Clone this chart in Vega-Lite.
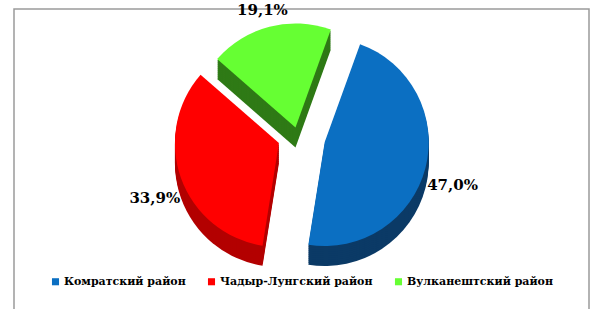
{
  "$schema": "https://vega.github.io/schema/vega-lite/v6.json",
  "width": 575,
  "height": 304,
  "autosize": {"type": "none"},
  "padding": {"left": 14, "top": 9, "right": 3, "bottom": 0},
  "background": "white",
  "view": {"stroke": "#9a9a9a", "strokeWidth": 1.5},
  "data": {"values": [
    {"region": "Комратский район", "share": 47.0, "label": "47,0%"},
    {"region": "Чадыр-Лунгский район", "share": 33.9, "label": "33,9%"},
    {"region": "Вулканештский район", "share": 19.1, "label": "19,1%"}
  ]},
  "encoding": {
    "theta": {"field": "share", "type": "quantitative", "stack": true, "scale": {"range": [5.43, 11.713]}},
    "order": {"field": "region", "type": "nominal", "sort": "ascending"}
  },
  "layer": [
    {"mark": {"type": "arc", "radius": 104, "y": {"expr": "height/2 - 22"}, "fill": {"expr": "datum.region == 'Комратский район' ? '#0b3a66' : datum.region == 'Чадыр-Лунгский район' ? '#b30000' : '#2f7a16'"}, "xOffset": {"expr": "24*sin(5.43 + PI*(datum.share_start + datum.share_end)/100)"}, "yOffset": {"expr": "20 - 12*cos(5.43 + PI*(datum.share_start + datum.share_end)/100)"}},
     "encoding": {"detail": {"field": "region", "type": "nominal"}}},
    {"mark": {"type": "arc", "radius": 104, "y": {"expr": "height/2 - 22"}, "fill": {"expr": "datum.region == 'Комратский район' ? '#0b3a66' : datum.region == 'Чадыр-Лунгский район' ? '#b30000' : '#2f7a16'"}, "xOffset": {"expr": "24*sin(5.43 + PI*(datum.share_start + datum.share_end)/100)"}, "yOffset": {"expr": "18 - 12*cos(5.43 + PI*(datum.share_start + datum.share_end)/100)"}},
     "encoding": {"detail": {"field": "region", "type": "nominal"}}},
    {"mark": {"type": "arc", "radius": 104, "y": {"expr": "height/2 - 22"}, "fill": {"expr": "datum.region == 'Комратский район' ? '#0b3a66' : datum.region == 'Чадыр-Лунгский район' ? '#b30000' : '#2f7a16'"}, "xOffset": {"expr": "24*sin(5.43 + PI*(datum.share_start + datum.share_end)/100)"}, "yOffset": {"expr": "16 - 12*cos(5.43 + PI*(datum.share_start + datum.share_end)/100)"}},
     "encoding": {"detail": {"field": "region", "type": "nominal"}}},
    {"mark": {"type": "arc", "radius": 104, "y": {"expr": "height/2 - 22"}, "fill": {"expr": "datum.region == 'Комратский район' ? '#0b3a66' : datum.region == 'Чадыр-Лунгский район' ? '#b30000' : '#2f7a16'"}, "xOffset": {"expr": "24*sin(5.43 + PI*(datum.share_start + datum.share_end)/100)"}, "yOffset": {"expr": "14 - 12*cos(5.43 + PI*(datum.share_start + datum.share_end)/100)"}},
     "encoding": {"detail": {"field": "region", "type": "nominal"}}},
    {"mark": {"type": "arc", "radius": 104, "y": {"expr": "height/2 - 22"}, "fill": {"expr": "datum.region == 'Комратский район' ? '#0b3a66' : datum.region == 'Чадыр-Лунгский район' ? '#b30000' : '#2f7a16'"}, "xOffset": {"expr": "24*sin(5.43 + PI*(datum.share_start + datum.share_end)/100)"}, "yOffset": {"expr": "12 - 12*cos(5.43 + PI*(datum.share_start + datum.share_end)/100)"}},
     "encoding": {"detail": {"field": "region", "type": "nominal"}}},
    {"mark": {"type": "arc", "radius": 104, "y": {"expr": "height/2 - 22"}, "fill": {"expr": "datum.region == 'Комратский район' ? '#0b3a66' : datum.region == 'Чадыр-Лунгский район' ? '#b30000' : '#2f7a16'"}, "xOffset": {"expr": "24*sin(5.43 + PI*(datum.share_start + datum.share_end)/100)"}, "yOffset": {"expr": "10 - 12*cos(5.43 + PI*(datum.share_start + datum.share_end)/100)"}},
     "encoding": {"detail": {"field": "region", "type": "nominal"}}},
    {"mark": {"type": "arc", "radius": 104, "y": {"expr": "height/2 - 22"}, "fill": {"expr": "datum.region == 'Комратский район' ? '#0b3a66' : datum.region == 'Чадыр-Лунгский район' ? '#b30000' : '#2f7a16'"}, "xOffset": {"expr": "24*sin(5.43 + PI*(datum.share_start + datum.share_end)/100)"}, "yOffset": {"expr": "8 - 12*cos(5.43 + PI*(datum.share_start + datum.share_end)/100)"}},
     "encoding": {"detail": {"field": "region", "type": "nominal"}}},
    {"mark": {"type": "arc", "radius": 104, "y": {"expr": "height/2 - 22"}, "fill": {"expr": "datum.region == 'Комратский район' ? '#0b3a66' : datum.region == 'Чадыр-Лунгский район' ? '#b30000' : '#2f7a16'"}, "xOffset": {"expr": "24*sin(5.43 + PI*(datum.share_start + datum.share_end)/100)"}, "yOffset": {"expr": "6 - 12*cos(5.43 + PI*(datum.share_start + datum.share_end)/100)"}},
     "encoding": {"detail": {"field": "region", "type": "nominal"}}},
    {"mark": {"type": "arc", "radius": 104, "y": {"expr": "height/2 - 22"}, "fill": {"expr": "datum.region == 'Комратский район' ? '#0b3a66' : datum.region == 'Чадыр-Лунгский район' ? '#b30000' : '#2f7a16'"}, "xOffset": {"expr": "24*sin(5.43 + PI*(datum.share_start + datum.share_end)/100)"}, "yOffset": {"expr": "4 - 12*cos(5.43 + PI*(datum.share_start + datum.share_end)/100)"}},
     "encoding": {"detail": {"field": "region", "type": "nominal"}}},
    {"mark": {"type": "arc", "radius": 104, "y": {"expr": "height/2 - 22"}, "fill": {"expr": "datum.region == 'Комратский район' ? '#0b3a66' : datum.region == 'Чадыр-Лунгский район' ? '#b30000' : '#2f7a16'"}, "xOffset": {"expr": "24*sin(5.43 + PI*(datum.share_start + datum.share_end)/100)"}, "yOffset": {"expr": "2 - 12*cos(5.43 + PI*(datum.share_start + datum.share_end)/100)"}},
     "encoding": {"detail": {"field": "region", "type": "nominal"}}},
    {"mark": {"type": "arc", "radius": 104, "y": {"expr": "height/2 - 22"}, "xOffset": {"expr": "24*sin(5.43 + PI*(datum.share_start + datum.share_end)/100)"}, "yOffset": {"expr": "-12*cos(5.43 + PI*(datum.share_start + datum.share_end)/100)"}},
     "encoding": {"color": {"field": "region", "type": "nominal", "title": null,
       "scale": {"domain": ["Комратский район", "Чадыр-Лунгский район", "Вулканештский район"], "range": ["#0b6fc2", "#ff0000", "#66ff33"]},
       "legend": {"orient": "none", "legendX": 36, "legendY": 267, "direction": "horizontal", "symbolType": "square", "symbolSize": 50, "symbolStrokeWidth": 0, "labelFont": "DejaVu Serif", "labelFontWeight": "bold", "labelFontSize": 11, "labelColor": "#000000", "columnPadding": 20, "labelOffset": 3, "labelLimit": 300}}}},
    {"mark": {"type": "text", "radius": 132, "y": {"expr": "height/2 - 22"}, "xOffset": {"expr": "24*sin(5.43 + PI*(datum.share_start + datum.share_end)/100)"}, "yOffset": {"expr": "10 - 12*cos(5.43 + PI*(datum.share_start + datum.share_end)/100)"}, "font": "DejaVu Serif", "fontWeight": "bold", "fontSize": 15, "color": "#000000"},
     "encoding": {"text": {"field": "label", "type": "nominal"}, "detail": {"field": "region", "type": "nominal"}}}
  ]
}
